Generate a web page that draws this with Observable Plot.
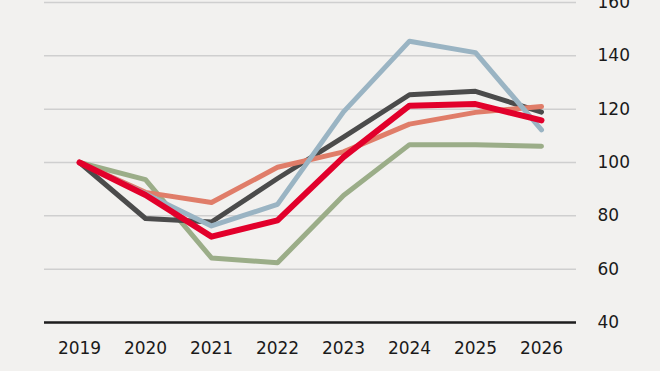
<!DOCTYPE html>
<html>
<head>
<meta charset="utf-8">
<script src="https://cdn.jsdelivr.net/npm/d3@7"></script>
<script src="https://cdn.jsdelivr.net/npm/@observablehq/plot@0.6"></script>
<style>
  html, body { margin: 0; padding: 0; background: #f2f1ef; }
  #chart { width: 660px; height: 371px; overflow: hidden; }
</style>
</head>
<body>
<div id="chart"></div>
<script>
const years = ["2019", "2020", "2021", "2022", "2023", "2024", "2025", "2026"];
const greenSeries  = [100, 93.6, 64.2, 62.4, 87.6, 106.7, 106.7, 106.1];
const darkSeries   = [100, 79.0, 77.7, 94.0, 109.5, 125.4, 126.7, 118.9];
const salmonSeries = [100, 88.8, 85.0, 98.2, 104.0, 114.4, 118.8, 121.0];
const blueSeries   = [100, 88.3, 76.2, 84.3, 119.0, 145.5, 141.2, 112.2];
const redSeries    = [100, 87.8, 72.2, 78.3, 102.0, 121.3, 121.9, 115.8];
const yTicks = [40, 60, 80, 100, 120, 140, 160];

const seriesList = [
  { key: "green", values: greenSeries, color: "#9bad88", width: 5 },
  { key: "dark", values: darkSeries, color: "#4b4b4b", width: 5 },
  { key: "salmon", values: salmonSeries, color: "#e07d69", width: 5 },
  { key: "blue", values: blueSeries, color: "#9ab4c3", width: 5 },
  { key: "red", values: redSeries, color: "#e2002b", width: 6 }
];

const lineMarks = seriesList.map(s =>
  Plot.line(years.map((y, i) => ({ year: y, value: s.values[i] })), {
    x: "year", y: "value",
    stroke: s.color, strokeWidth: s.width,
    strokeLinejoin: "round", strokeLinecap: "round"
  })
);

const chart = Plot.plot({
  width: 660,
  height: 371,
  marginTop: 2,
  marginBottom: 49,
  marginLeft: 44,
  marginRight: 84,
  style: { background: "#f2f1ef", fontFamily: "DejaVu Sans", fontSize: "17px", color: "#1a1a1a", overflow: "visible" },
  x: { type: "point", domain: years, padding: 0.5 },
  y: { domain: [40, 160] },
  marks: [
    Plot.gridY(yTicks, { stroke: "#cfcfcf", strokeOpacity: 1, strokeWidth: 1.5 }),
    Plot.axisY(yTicks, { anchor: "right", tickSize: 0, tickPadding: 21, label: null, textAnchor: "start", fill: "#1a1a1a" }),
    Plot.axisX(years, { anchor: "bottom", tickSize: 0, tickPadding: 19, label: null, fill: "#1a1a1a" }),
    ...lineMarks,
    Plot.ruleY([40], { stroke: "#1e1e1e", strokeWidth: 2.5 })
  ]
});
document.getElementById("chart").appendChild(chart);
</script>
</body>
</html>
